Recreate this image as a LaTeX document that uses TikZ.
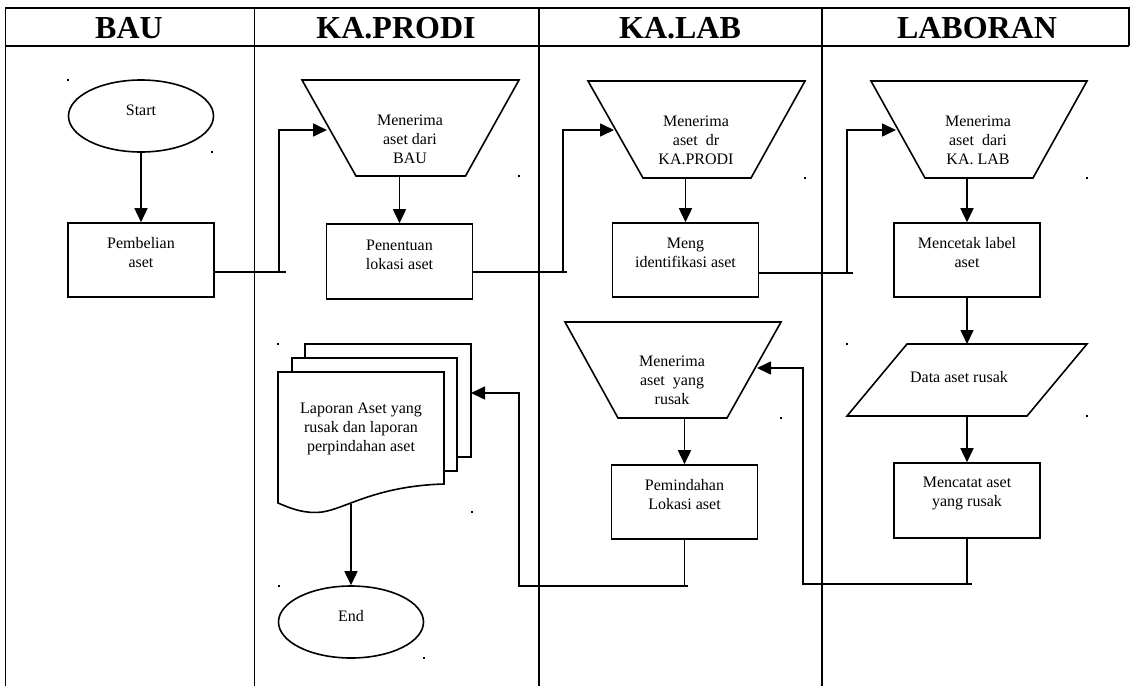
\documentclass[tikz,border=0pt]{standalone}
\usepackage{fontspec}
\setmainfont{Liberation Serif}
\usetikzlibrary{shapes.geometric,arrows.meta}
\tikzstyle{procbox}=[rectangle,draw=black,line width=1.6pt,
                     minimum width=146pt,minimum height=74pt,inner sep=0pt]
\tikzstyle{termoval}=[ellipse,draw=black,line width=1.6pt,
                      minimum width=145pt,minimum height=72pt,inner sep=0pt]
\tikzstyle{shp}=[draw=black,line width=1.6pt]
\tikzstyle{txt}=[align=center,inner sep=0pt,
                 font=\fontsize{16}{19}\selectfont]
\tikzstyle{lanehead}=[inner sep=0pt,font=\fontsize{32}{36}\selectfont\bfseries]
\tikzstyle{lane}=[line width=1.2pt]
\tikzstyle{wire}=[line width=1.6pt]
\tikzstyle{flow}=[line width=1.6pt,-{Triangle[length=14pt,width=13pt]}]

\begin{document}
\begin{tikzpicture}[x=1pt,y=-1pt]
    \useasboundingbox (0,0) rectangle (1130,686);
    % swimlanes
    \draw[lane] (5,8) -- (1129,8) -- (1129,46);
    \draw[lane] (5,46) -- (1129,46);
    \draw[lane] (5.5,8) -- (5.5,686);
    \draw[lane] (254.5,8) -- (254.5,686);
    \draw[lane] (539,8) -- (539,686);
    \draw[lane] (822,8) -- (822,686);
    \node (h1) at (129,28) [lanehead]{BAU};
    \node (h2) at (396,28) [lanehead]{KA.PRODI};
    \node (h3) at (680,28) [lanehead]{KA.LAB};
    \node (h4) at (977,28) [lanehead]{LABORAN};

    % BAU
    \node (start) at (141,116) [termoval]{};
    \node (startt) at (141,110) [txt]{Start};
    \node (beli) at (141,260) [procbox]{};
    \node (belit) at (141,253) [txt]{Pembelian\\aset};

    % KA.PRODI
    \draw[shp] (302,80) -- (519,80) -- (465.5,176) -- (356,176) -- cycle;
    \coordinate (trm1in) at (327,130);
    \coordinate (trm1b) at (399.5,176);
    \node (trm1t) at (410,139) [txt]{Menerima\\aset dari\\BAU};
    \node (tentu) at (399.5,261.5) [procbox,minimum height=75pt]{};
    \node (tentut) at (399.5,254.5) [txt]{Penentuan\\lokasi aset};
    \draw[shp] (278,503) .. controls (292,509) and (305,514) .. (322,512)
               .. controls (345,509) and (375,486) .. (444,484)
               -- (444,372) -- (278,372) -- cycle;
    \draw[shp] (292,372) -- (292,358) -- (457,358) -- (457,471) -- (444,471);
    \draw[shp] (305,358) -- (305,344) -- (471,344) -- (471,457) -- (457,457);
    \coordinate (lapin) at (471,393);
    \coordinate (lapout) at (351,504);
    \node (lapt) at (361,429) [txt]{Laporan Aset yang\\rusak dan laporan\\perpindahan aset};
    \node (fin) at (351,622) [termoval]{};
    \node (fint) at (351,616) [txt]{End};

    % KA.LAB
    \draw[shp] (588,81) -- (805,81) -- (751,178) -- (643,178) -- cycle;
    \coordinate (trm2in) at (614,130);
    \coordinate (trm2b) at (685.5,178);
    \node (trm2t) at (696,140.5) [txt]{Menerima\\aset\ \ dr\\KA.PRODI};
    \node (ident) at (685.5,260) [procbox]{};
    \node (identt) at (685.5,253) [txt]{Meng\\identifikasi aset};
    \draw[shp] (565,322) -- (781,322) -- (727,418) -- (618,418) -- cycle;
    \coordinate (trm4in) at (757,368);
    \coordinate (trm4b) at (684.5,418);
    \node (trm4t) at (672,380.5) [txt]{Menerima\\aset\ \ yang\\rusak};
    \node (pindah) at (684.5,502) [procbox]{};
    \node (pindaht) at (684.5,494.5) [txt]{Pemindahan\\Lokasi aset};

    % LABORAN
    \draw[shp] (871,81) -- (1087,81) -- (1033,178) -- (925,178) -- cycle;
    \coordinate (trm3in) at (896,130);
    \coordinate (trm3b) at (967,178);
    \node (trm3t) at (978,140.5) [txt]{Menerima\\aset\ \ dari\\KA. LAB};
    \node (cetak) at (967,260) [procbox]{};
    \node (cetakt) at (967,253) [txt]{Mencetak label\\aset};
    \draw[shp] (907,344) -- (1087,344) -- (1027,416) -- (847,416) -- cycle;
    \coordinate (datat) at (967,344);
    \coordinate (datab) at (967,416);
    \node (datatx) at (959,377) [txt]{Data aset rusak};
    \node (catat) at (967,500.5) [procbox,minimum height=75pt]{};
    \node (catatt) at (967,493) [txt]{Mencatat aset\\yang rusak};

    % joints
    \coordinate (jn1) at (279,272);
    \coordinate (jn2) at (563,272);
    \coordinate (jn3) at (847,273);
    \coordinate (jn4) at (967,584);
    \coordinate (bk4) at (803,584);
    \coordinate (jn6) at (684.5,586);
    \coordinate (bk6) at (519,586);

    % flows
    \draw[flow] (start) -- (beli);
    \draw[flow] ([yshift=-12pt]beli.east) -| (jn1) |- (trm1in);
    \draw[wire] (jn1) -- ++(7,0);
    \draw[flow] (trm1b) -- (tentu);
    \draw[flow] ([yshift=-10.5pt]tentu.east) -| (jn2) |- (trm2in);
    \draw[wire] (jn2) -- ++(4,0);
    \draw[flow] (trm2b) -- (ident);
    \draw[flow] ([yshift=-13pt]ident.east) -| (jn3) |- (trm3in);
    \draw[wire] (jn3) -- ++(6,0);
    \draw[flow] (trm3b) -- (cetak);
    \draw[flow] (cetak) -- (datat);
    \draw[flow] (datab) -- (catat);
    \draw[flow] (catat) -- (jn4) -| (bk4) |- (trm4in);
    \draw[wire] (jn4) -- ++(5,0);
    \draw[flow] (trm4b) -- (pindah);
    \draw[flow] (pindah) -- (jn6) -| (bk6) |- (lapin);
    \draw[wire] (jn6) -- ++(3,0);
    \draw[flow] (lapout) -- (fin);

    % stray marks
    \foreach \mx/\my in {68/80,212/152,519/176,805/178,1087/178,847/344,
                         1087/416,781/418,278/344,472/512,279/586,424/658}
      \fill (\mx-1,\my-1) rectangle ++(2.2,2.2);
\end{tikzpicture}
\end{document}
